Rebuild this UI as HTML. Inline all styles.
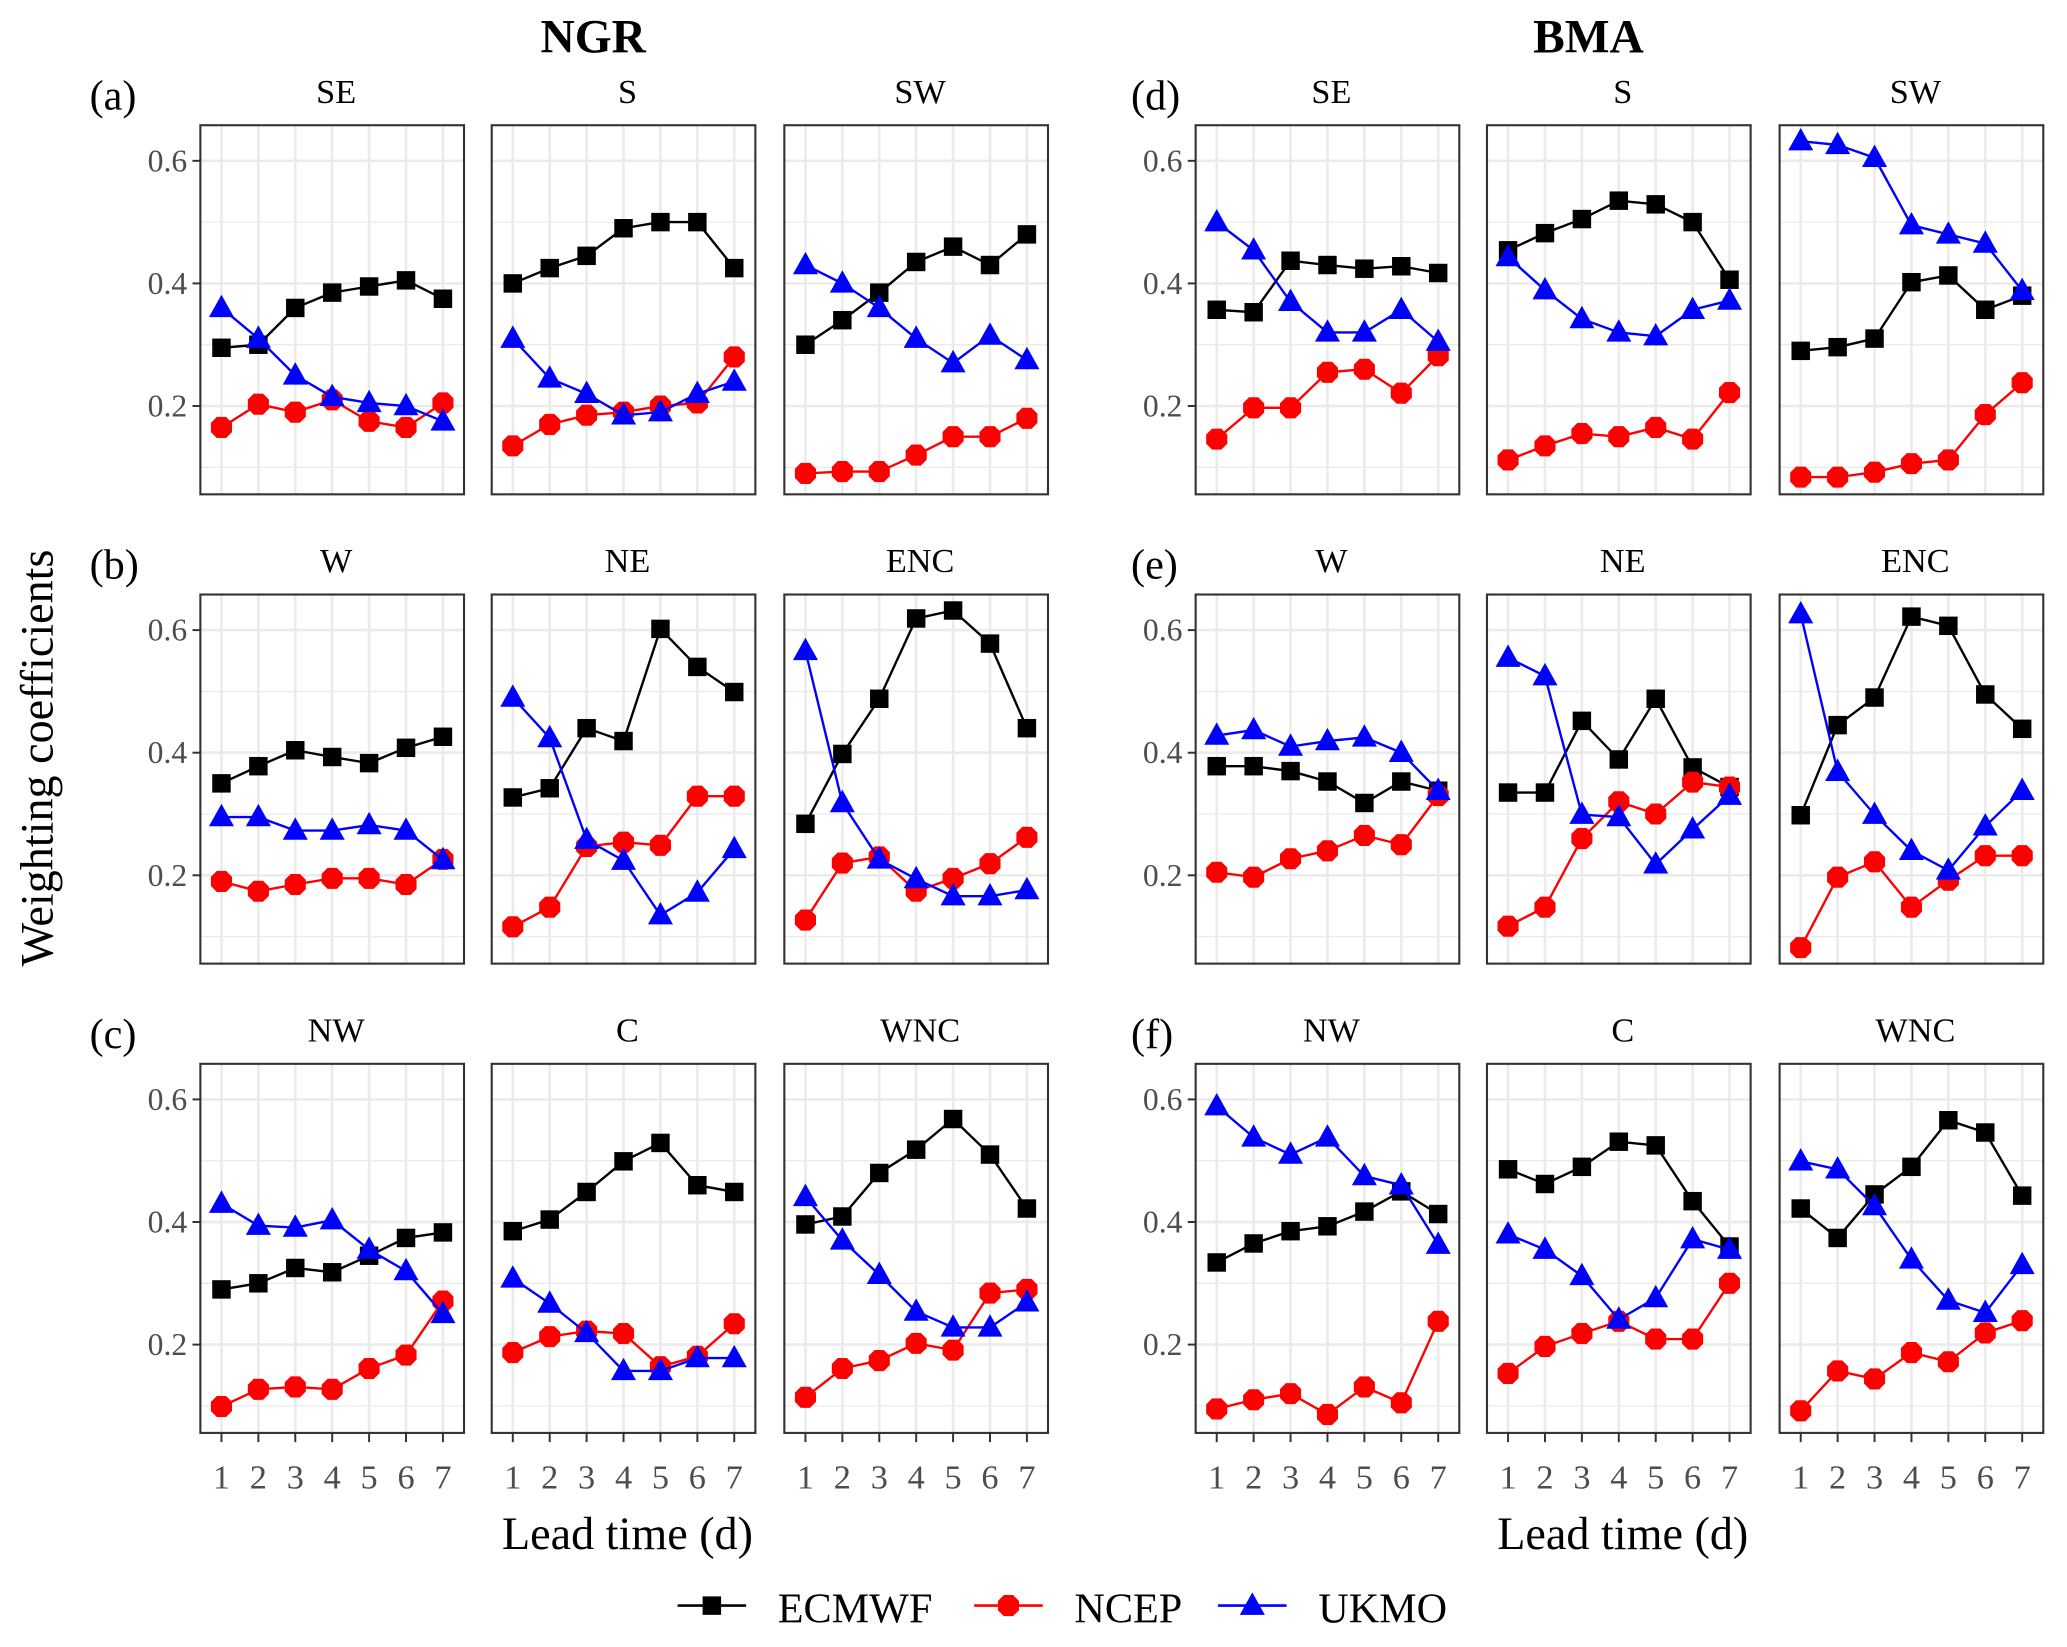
<!DOCTYPE html>
<html><head><meta charset="utf-8"><style>
html,body{margin:0;padding:0;background:#fff}
svg{display:block}
svg text{font-family:"Liberation Serif","Times New Roman",Times,"DejaVu Serif","Noto Serif CJK SC",serif}
</style></head><body>
<svg id="fig" width="2067" height="1647" viewBox="0 0 1568 1249.4" preserveAspectRatio="none"></svg>
<script>
const leadTimes=[1,2,3,4,5,6,7];
const yTicks=[0.2,0.4,0.6];
const yTickLabels=["0.2","0.4","0.6"];
const yMinor=[0.1,0.3,0.5];
const methods=["NGR","BMA"];
const rowLabelsNGR=["(a)","(b)","(c)"];
const rowLabelsBMA=["(d)","(e)","(f)"];
const regions=[["SE","S","SW"],["W","NE","ENC"],["NW","C","WNC"]];
const seriesNames=["ECMWF","NCEP","UKMO"];
const ngrECMWF={SE:[0.295,0.30,0.36,0.385,0.395,0.405,0.375],S:[0.40,0.425,0.445,0.49,0.50,0.50,0.425],SW:[0.30,0.34,0.385,0.435,0.46,0.43,0.48],
W:[0.35,0.378,0.404,0.393,0.383,0.408,0.426],NE:[0.327,0.342,0.44,0.419,0.602,0.54,0.499],ENC:[0.284,0.398,0.488,0.619,0.632,0.578,0.44],
NW:[0.29,0.30,0.325,0.318,0.345,0.374,0.383],C:[0.385,0.404,0.449,0.499,0.529,0.46,0.449],WNC:[0.396,0.409,0.48,0.518,0.568,0.51,0.422]};
const ngrNCEP={SE:[0.165,0.203,0.19,0.21,0.175,0.165,0.205],S:[0.135,0.17,0.185,0.19,0.20,0.205,0.28],SW:[0.09,0.093,0.093,0.12,0.15,0.15,0.18],
W:[0.19,0.174,0.185,0.195,0.195,0.185,0.226],NE:[0.116,0.148,0.247,0.254,0.249,0.329,0.329],ENC:[0.127,0.22,0.23,0.174,0.195,0.219,0.262],
NW:[0.099,0.127,0.131,0.127,0.161,0.183,0.271],C:[0.187,0.213,0.222,0.218,0.164,0.181,0.234],WNC:[0.114,0.161,0.174,0.202,0.191,0.284,0.29]};
const ngrUKMO={SE:[0.36,0.31,0.25,0.215,0.205,0.2,0.175],S:[0.31,0.245,0.22,0.185,0.19,0.22,0.24],SW:[0.43,0.40,0.36,0.31,0.27,0.315,0.275],
W:[0.295,0.295,0.273,0.273,0.282,0.273,0.225],NE:[0.49,0.424,0.258,0.224,0.135,0.172,0.243],ENC:[0.566,0.318,0.226,0.194,0.166,0.166,0.176],
NW:[0.43,0.394,0.391,0.403,0.355,0.32,0.25],C:[0.308,0.267,0.219,0.157,0.157,0.178,0.178],WNC:[0.441,0.37,0.314,0.254,0.228,0.228,0.269]};
const bmaECMWF={SE:[0.357,0.353,0.437,0.43,0.424,0.428,0.417],S:[0.454,0.482,0.505,0.535,0.529,0.5,0.406],SW:[0.29,0.296,0.31,0.402,0.413,0.357,0.38],
W:[0.378,0.378,0.37,0.353,0.318,0.353,0.338],NE:[0.335,0.335,0.452,0.389,0.488,0.376,0.344],ENC:[0.298,0.445,0.49,0.622,0.607,0.495,0.439],
NW:[0.334,0.365,0.385,0.393,0.417,0.45,0.413],C:[0.486,0.462,0.49,0.531,0.525,0.434,0.36],WNC:[0.422,0.374,0.445,0.49,0.566,0.546,0.443]};
const bmaNCEP={SE:[0.146,0.197,0.197,0.255,0.26,0.221,0.282],S:[0.112,0.135,0.155,0.15,0.165,0.146,0.222],SW:[0.084,0.084,0.092,0.106,0.112,0.186,0.238],
W:[0.205,0.197,0.227,0.24,0.265,0.25,0.33],NE:[0.117,0.148,0.26,0.32,0.3,0.352,0.344],ENC:[0.082,0.197,0.222,0.148,0.192,0.232,0.232],
NW:[0.095,0.11,0.12,0.086,0.131,0.105,0.238],C:[0.153,0.197,0.218,0.238,0.209,0.209,0.3],WNC:[0.092,0.157,0.144,0.187,0.172,0.219,0.239]};
const bmaUKMO={SE:[0.5,0.454,0.37,0.32,0.32,0.357,0.305],S:[0.443,0.389,0.342,0.32,0.314,0.357,0.372],SW:[0.632,0.626,0.605,0.495,0.48,0.465,0.388],
W:[0.428,0.437,0.41,0.419,0.425,0.4,0.338],NE:[0.555,0.525,0.299,0.295,0.218,0.275,0.33],ENC:[0.626,0.369,0.299,0.24,0.208,0.28,0.338],
NW:[0.589,0.538,0.51,0.538,0.475,0.46,0.363],C:[0.38,0.355,0.312,0.241,0.276,0.372,0.355],WNC:[0.499,0.486,0.426,0.339,0.272,0.252,0.33]};

const NS="http://www.w3.org/2000/svg";
const svg=document.getElementById('fig');
function mk(tag,attrs,parent){const e=document.createElementNS(NS,tag);for(const k in attrs)e.setAttribute(k,attrs[k]);(parent||svg).appendChild(e);return e;}
const colors=["#000000","#ff0000","#0000ff"];
const groupLeft=[152,907];
const rowLabelOff=[-64,-29];
const panelOffsets=[0,221,443];
const panelW=200;
const rowTop=[95,451,807];
const panelH=280;
const y06Off=27; const pxPerUnit=465;
function xScale(px,t){return px+16+(t-1)*28;}
function yScale(py,v){return py+y06Off+(0.6-v)*pxPerUnit;}

function marker(g,kind,x,y){
  let m;
  if(kind===0){m=mk('rect',{x:x-7,y:y-7,width:14,height:14,fill:colors[0]},g);}
  else if(kind===1){m=mk('polygon',{points:[[-3.5,-8],[3.5,-8],[8,-3.5],[8,3.5],[3.5,8],[-3.5,8],[-8,3.5],[-8,-3.5]].map(p=>(x+p[0])+','+(y+p[1])).join(' '),fill:colors[1]},g);}
  else {m=mk('polygon',{points:`${x},${y-10} ${x+9.5},${y+7} ${x-9.5},${y+7}`,fill:colors[2]},g);}
  return m;
}

methods.forEach((meth,mi)=>{
  const t=mk('text',{x:groupLeft[mi]+298,y:40,'text-anchor':'middle','font-size':36,'font-weight':'bold'});
  t.textContent=meth;
  
  
  const data=mi===0?[ngrECMWF,ngrNCEP,ngrUKMO]:[bmaECMWF,bmaNCEP,bmaUKMO];
  const rl=mi===0?rowLabelsNGR:rowLabelsBMA;
  for(let r=0;r<3;r++){
    const py=rowTop[r];
    const lab=mk('text',{x:groupLeft[mi]+rowLabelOff[mi]-20,y:py-12,'font-size':32});
    lab.textContent=rl[r];
    
    
    yTicks.forEach((v,i)=>{
      const y=yScale(py,v);
      mk('line',{x1:groupLeft[mi]-6,x2:groupLeft[mi],y1:y,y2:y,stroke:'#333','stroke-width':1.5});
      const tl=mk('text',{x:groupLeft[mi]-10,y:y+8,'text-anchor':'end','font-size':24,fill:'#4d4d4d'});
      tl.textContent=yTickLabels[i];
      
      
    });
    for(let c=0;c<3;c++){
      const reg=regions[r][c];
      const px=groupLeft[mi]+panelOffsets[c];
      const g=mk('g',{});
      
      
      const st=mk('text',{x:px+panelW/2+3,y:py-17,'text-anchor':'middle','font-size':26},g);
      st.textContent=reg;
      
      
      mk('rect',{x:px,y:py,width:panelW,height:panelH,fill:'#fff'},g);
      yMinor.forEach(v=>{const y=yScale(py,v);mk('line',{x1:px,x2:px+panelW,y1:y,y2:y,stroke:'#ebebeb','stroke-width':1},g);});
      yTicks.forEach(v=>{const y=yScale(py,v);mk('line',{x1:px,x2:px+panelW,y1:y,y2:y,stroke:'#ebebeb','stroke-width':2},g);});
      leadTimes.forEach(tt=>{const x=xScale(px,tt);mk('line',{x1:x,x2:x,y1:py,y2:py+panelH,stroke:'#ebebeb','stroke-width':2},g);});
      for(let s=0;s<3;s++){
        const vals=data[s][reg];
        const pl=mk('polyline',{points:vals.map((v,i)=>xScale(px,leadTimes[i])+','+yScale(py,v)).join(' '),fill:'none',stroke:colors[s],'stroke-width':1.8},g);
        
        
        vals.forEach((v,i)=>{
          const m=marker(g,s,xScale(px,leadTimes[i]),yScale(py,v));
          
          
        });
      }
      mk('rect',{x:px,y:py,width:panelW,height:panelH,fill:'none',stroke:'#333','stroke-width':1.6},g);
      if(r===2){
        leadTimes.forEach(tt=>{
          const x=xScale(px,tt);
          mk('line',{x1:x,x2:x,y1:py+panelH,y2:py+panelH+7,stroke:'#333','stroke-width':1.5},g);
          const xl=mk('text',{x:x,y:py+panelH+42,'text-anchor':'middle','font-size':26,fill:'#4d4d4d'},g);
          xl.textContent=String(tt);
          
          
        });
      }
    }
  }
  const xt=mk('text',{x:groupLeft[mi]+324,y:1175,'text-anchor':'middle','font-size':35});
  xt.textContent='Lead time (d)';
  
  
});
const yt=mk('text',{x:0,y:0,'text-anchor':'middle','font-size':35,transform:'translate(40,575) rotate(-90)'});
yt.textContent='Weighting coefficients';



const legendX=[540,765,950];
seriesNames.forEach((n,s)=>{
  const g=mk('g',{});
  
  
  mk('line',{x1:legendX[s]-26,x2:legendX[s]+26,y1:1218,y2:1218,stroke:colors[s],'stroke-width':2},g);
  marker(g,s,legendX[s],1218);
  const t=mk('text',{x:legendX[s]+50,y:1231,'font-size':32},g);
  t.textContent=n;
});
</script>
</body></html>
